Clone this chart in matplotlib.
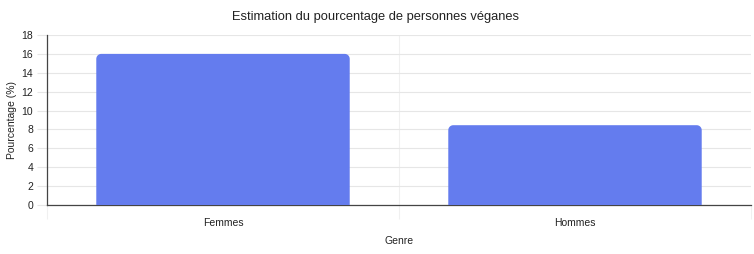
import numpy as np
import matplotlib.pyplot as plt
from matplotlib.patches import Polygon

genres = ["Femmes", "Hommes"]
pourcentages = [16.0, 8.45]
y_ticks = [0, 2, 4, 6, 8, 10, 12, 14, 16, 18]

bar_color = "#647cee"
grid_color = "#e6e6e6"

plt.rcParams["font.family"] = ["Liberation Sans", "DejaVu Sans"]

fig = plt.figure(figsize=(7.54, 2.54), dpi=100)
ax = fig.add_axes([47 / 754, 49 / 254, 704 / 754, 170 / 254])

x = list(range(len(genres)))
width = 0.72
ax.set_xlim(-0.5, len(genres) - 0.5)
ax.set_ylim(0, 18)

# bars with rounded top corners (~5 px radius)
px_x = len(genres) / 704
px_y = 18 / 170
rx, ry = 5 * px_x, 5 * px_y
t = np.linspace(0, np.pi / 2, 12)
for xi, h in zip(x, pourcentages):
    x0, x1 = xi - width / 2, xi + width / 2
    pts = [(x0, 0), (x1, 0)]
    pts += [(x1 - rx + rx * np.cos(a), h - ry + ry * np.sin(a)) for a in t]
    pts += [(x0 + rx - rx * np.cos(a), h - ry + ry * np.sin(a)) for a in t[::-1]]
    ax.add_patch(Polygon(pts, closed=True, facecolor=bar_color,
                         edgecolor="none", zorder=3))

ax.set_yticks(y_ticks)
ax.set_xticks(x)
ax.set_xticklabels(genres)
ax.set_xticks([i - 0.5 for i in range(len(genres) + 1)], minor=True)

ax.grid(axis="y", color=grid_color, linewidth=0.8, zorder=0)
ax.grid(axis="x", which="minor", color="#f0f0f0", linewidth=0.8, zorder=0)
ax.tick_params(axis="x", which="major", length=0, pad=9, labelsize=7.5, colors="#222222")
ax.tick_params(axis="x", which="minor", length=10, color="#f0f0f0", width=0.8)
ax.tick_params(axis="y", length=7, color=grid_color, width=0.8, pad=3,
               labelsize=7.5, labelcolor="#222222")

for s in ["top", "right"]:
    ax.spines[s].set_visible(False)
ax.spines["left"].set_color("#444444")
ax.spines["bottom"].set_color("#444444")
ax.spines["left"].set_linewidth(0.9)
ax.spines["bottom"].set_linewidth(0.9)

ax.set_ylabel("Pourcentage (%)", fontsize=7.5, color="#222222", labelpad=3)
ax.set_xlabel("Genre", fontsize=7.5, color="#222222", labelpad=6)
fig.text(376 / 754, 1 - 17 / 254, "Estimation du pourcentage de personnes véganes",
         ha="center", va="center", fontsize=9.3, color="#222222")

fig.savefig("out.png", dpi=100)
